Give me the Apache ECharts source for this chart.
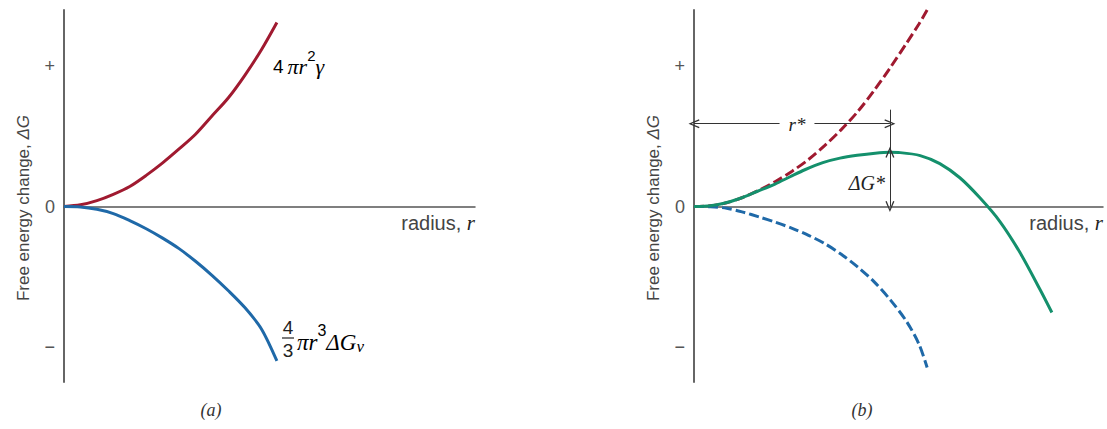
<!DOCTYPE html>
<html>
<head>
<meta charset="utf-8">
<title>Free energy vs radius</title>
<script src="https://cdn.jsdelivr.net/npm/echarts@6/dist/echarts.min.js"></script>
<style>
  html, body { margin: 0; padding: 0; background: #fff; }
  #chart { width: 1107px; height: 429px; }
</style>
</head>
<body>
<div id="chart"></div>
<script>
// (a) surface and volume terms
var rA = [0, 0.4, 0.8, 1.2, 1.6, 2.0, 2.4, 2.8, 3.2, 3.6, 4.0, 4.4, 4.8, 5.18];
var surfA = [0, 0.012, 0.042, 0.087, 0.143, 0.222, 0.311, 0.41, 0.515, 0.645, 0.775, 0.935, 1.115, 1.311];
var volA = [0, -0.003, -0.02, -0.05, -0.1, -0.158, -0.225, -0.3, -0.39, -0.49, -0.6, -0.72, -0.87, -1.10];

// (b) dashed terms and their sum
var rB = [0, 0.4, 0.8, 1.2, 1.6, 2.0, 2.4, 2.8, 3.2, 3.6, 4.0, 4.4, 4.8, 5.2, 5.5, 5.7];
var surfB = [0, 0.005, 0.027, 0.066, 0.118, 0.18, 0.252, 0.335, 0.435, 0.548, 0.675, 0.825, 0.99, 1.165, 1.30, 1.40];
var volB = [0, -0.002, -0.012, -0.04, -0.075, -0.113, -0.155, -0.205, -0.265, -0.34, -0.43, -0.535, -0.665, -0.82, -0.98, -1.147];
var rTotB = [0, 0.4, 0.71, 1.12, 1.54, 1.98, 2.35, 2.71, 3.15, 3.57, 3.99, 4.43, 4.79, 5.04, 5.53, 6.01, 6.50, 6.99, 7.48, 7.97, 8.46, 8.75];
var totB = [0, 0.006, 0.021, 0.057, 0.107, 0.160, 0.212, 0.262, 0.313, 0.345, 0.365, 0.380, 0.386, 0.384, 0.363, 0.306, 0.205, 0.062, -0.107, -0.328, -0.591, -0.755];

// critical point annotation
var rStar = 4.79;
var dGStar = 0.386;
var rArrowY = 0.59;
var tickTop = 0.69;

var yTicks = [-1, 0, 1];
var yTickText = ['\u2212', '0', '+'];

var RED = '#a01a30';
var BLUE = '#1f69a8';
var GREEN = '#14906c';
var AXIS = '#666';
var TXT = '#444';
var SERIF = '"Liberation Serif", "DejaVu Serif", serif';
var SANS = '"Liberation Sans", Arial, sans-serif';

var chevron = 'path://M5,0 L10,11 L8.6,11.6 L5,3.2 L1.4,11.6 L0,11 Z';

function pairs(xs, ys) {
    return xs.map(function (x, i) { return [x, ys[i]]; });
}

function xAxisFor(gi) {
    return {
        gridIndex: gi,
        type: 'value',
        min: 0,
        max: 10,
        axisLine: { onZero: true, lineStyle: { color: '#555', width: 1.5 } },
        axisTick: { show: false },
        axisLabel: { show: false },
        splitLine: { show: false },
        name: '{n|radius, }{i|r}',
        nameLocation: 'end',
        nameGap: 0,
        nameTextStyle: {
            align: 'right',
            verticalAlign: 'top',
            padding: [6, 0, 0, 0],
            rich: {
                n: { fontFamily: SANS, fontSize: 20, color: TXT },
                i: { fontFamily: SERIF, fontStyle: 'italic', fontSize: 21, color: '#222' }
            }
        }
    };
}

function yAxisFor(gi) {
    return {
        gridIndex: gi,
        type: 'value',
        min: -1.25,
        max: 1.4,
        axisLine: { show: true, onZero: false, lineStyle: { color: AXIS, width: 2 } },
        axisTick: { show: false },
        splitLine: { show: false },
        axisLabel: {
            customValues: yTicks,
            margin: 9,
            fontFamily: SANS,
            fontSize: 18,
            color: '#555',
            formatter: function (v) {
                var i = yTicks.indexOf(v);
                return i >= 0 ? yTickText[i] : '';
            }
        },
        name: '{n|Free energy change, }{i|\u0394G}',
        nameLocation: 'middle',
        nameRotate: 90,
        nameGap: 32,
        nameTextStyle: {
            padding: [0, 24, 0, 0],
            rich: {
                n: { fontFamily: SANS, fontSize: 17, color: TXT },
                i: { fontFamily: SANS, fontStyle: 'italic', fontSize: 17, color: TXT }
            }
        }
    };
}

function curve(name, gi, xs, ys, color, dashed) {
    return {
        name: name,
        type: 'line',
        xAxisIndex: gi,
        yAxisIndex: gi,
        data: pairs(xs, ys),
        smooth: 0.3,
        showSymbol: false,
        silent: true,
        lineStyle: { color: color, width: 3, type: dashed ? [10, 4] : 'solid', cap: 'butt' }
    };
}

var totalSeries = curve('total', 1, rTotB, totB, GREEN, false);
totalSeries.markLine = {
    silent: true,
    animation: false,
    symbol: [chevron, chevron],
    symbolSize: [9, 11],
    label: { show: false },
    lineStyle: { color: '#333', width: 1, type: 'solid' },
    data: [
        [{ coord: [0, rArrowY] }, { coord: [rStar, rArrowY] }],
        [{ coord: [rStar, tickTop], symbol: 'none' }, { coord: [rStar, dGStar], symbol: 'none' }],
        [{ coord: [rStar, dGStar] }, { coord: [rStar, 0] }]
    ]
};

var option = {
    animation: false,
    backgroundColor: '#fff',
    grid: [
        { left: 64, top: 10, width: 411, height: 372 },
        { left: 694, top: 10, width: 409, height: 372 }
    ],
    xAxis: [xAxisFor(0), xAxisFor(1)],
    yAxis: [yAxisFor(0), yAxisFor(1)],
    series: [
        curve('surface', 0, rA, surfA, RED, false),
        curve('volume', 0, rA, volA, BLUE, false),
        curve('surface', 1, rB, surfB, RED, true),
        curve('volume', 1, rB, volB, BLUE, true),
        totalSeries
    ],
    graphic: [
        {
            type: 'text', left: 273, top: 48, z: 100,
            style: {
                text: '{n|4}{i|\u03c0r}{s|2}{i|\u03b3}',
                rich: {
                    n: { fontFamily: SANS, fontSize: 19, color: '#222', padding: [7, 4, 0, 0] },
                    i: { fontFamily: SERIF, fontStyle: 'italic', fontSize: 22, color: '#222', padding: [7, 0, 0, 0] },
                    s: { fontFamily: SANS, fontSize: 15, color: '#222', verticalAlign: 'top' }
                }
            }
        },
        {
            type: 'text', x: 288, y: 327, z: 100,
            style: { text: '4', fontFamily: SANS, fontSize: 19, fill: '#222', align: 'center', verticalAlign: 'middle' }
        },
        {
            type: 'line', z: 100,
            shape: { x1: 282, y1: 338, x2: 294, y2: 338 },
            style: { stroke: '#222', lineWidth: 1.2 }
        },
        {
            type: 'text', x: 288, y: 350, z: 100,
            style: { text: '3', fontFamily: SANS, fontSize: 19, fill: '#222', align: 'center', verticalAlign: 'middle' }
        },
        {
            type: 'text', left: 297, top: 322, z: 100,
            style: {
                text: '{i|\u03c0r}{s|3}{i|\u0394G}{b|v}',
                rich: {
                    i: { fontFamily: SERIF, fontStyle: 'italic', fontSize: 23, color: '#222', padding: [7, 0, 0, 0] },
                    s: { fontFamily: SANS, fontSize: 16, color: '#222', verticalAlign: 'top' },
                    b: { fontFamily: SERIF, fontStyle: 'italic', fontSize: 17, color: '#222', padding: [16, 0, 0, 0] }
                }
            }
        },
        {
            type: 'text', x: 797, y: 124, z: 100,
            style: {
                text: 'r*', fontFamily: SERIF, fontStyle: 'italic', fontSize: 19, fill: '#222',
                align: 'center', verticalAlign: 'middle',
                backgroundColor: '#fff', padding: [0, 9]
            }
        },
        {
            type: 'text', x: 885, y: 183, z: 100,
            style: {
                text: '\u0394G*', fontFamily: SERIF, fontStyle: 'italic', fontSize: 20, fill: '#222',
                align: 'right', verticalAlign: 'middle'
            }
        },
        {
            type: 'text', x: 211, y: 410, z: 100,
            style: { text: '(a)', fontFamily: SERIF, fontStyle: 'italic', fontSize: 18, fill: '#333', align: 'center', verticalAlign: 'middle' }
        },
        {
            type: 'text', x: 862, y: 410, z: 100,
            style: { text: '(b)', fontFamily: SERIF, fontStyle: 'italic', fontSize: 18, fill: '#333', align: 'center', verticalAlign: 'middle' }
        }
    ]
};

echarts.init(document.getElementById('chart'), null, { renderer: 'svg' }).setOption(option);
</script>
</body>
</html>
